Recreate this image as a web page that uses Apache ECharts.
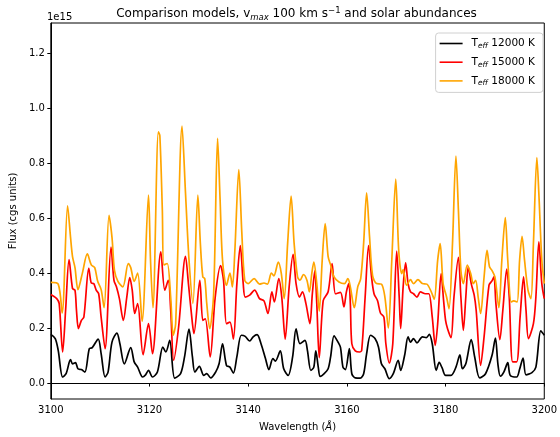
<!DOCTYPE html>
<html>
<head>
<meta charset="utf-8">
<script src="https://cdn.jsdelivr.net/npm/echarts@6/dist/echarts.min.js"></script>
<style>
  html, body { margin: 0; padding: 0; background: #fff; }
  #chart { width: 560px; height: 437px; }
</style>
</head>
<body>
<div id="chart"></div>
<script>
// Synthetic spectra, flux in units of 1e15 (cgs), wavelength in Angstrom.

// T_eff = 12000 K
const wave12 = [3100.0,3100.9,3101.5,3102.4,3103.1,3104.0,3104.4,3105.0,3105.5,3106.2,3106.9,3107.8,3108.4,3109.6,3110.2,3111.0,3111.6,3112.4,3113.4,3114.0,3114.9,3116.2,3116.9,3117.6,3118.6,3119.2,3119.8,3120.6,3121.6,3122.7,3123.3,3124.1,3125.1,3126.3,3127.1,3128.0,3128.7,3129.2,3130.1,3131.0,3131.6,3132.4,3133.4,3134.1,3134.8,3135.6,3136.3,3137.0,3137.7,3138.6,3139.4,3140.3,3141.0,3141.8,3142.6,3143.5,3144.2,3145.0,3145.5,3146.5,3147.2,3148.1,3149.0,3149.7,3150.5,3151.5,3152.0,3152.7,3153.3,3153.7,3154.2,3154.6,3155.4,3156.2,3156.7,3157.4,3158.2,3158.7,3159.2,3159.7,3160.5,3161.0,3161.7,3162.7,3163.4,3164.0,3164.8,3165.7,3166.4,3167.0,3167.7,3168.6,3169.4,3170.4,3170.9,3171.7,3172.4,3172.9,3173.5,3174.2,3175.3,3176.1,3176.7,3177.3,3178.1,3178.7,3179.3,3180.0,3181.1,3182.1,3182.9,3183.4,3184.1,3185.2,3185.9,3186.9,3188.1,3189.4,3190.1,3190.6,3191.1,3191.8,3192.6,3193.1,3194.4,3195.0,3195.7,3196.3,3197.5,3198.3,3199.3,3200.0];
const flux12 = [0.177,0.162,0.119,0.022,0.034,0.085,0.070,0.074,0.052,0.049,0.040,0.125,0.129,0.160,0.107,0.022,0.040,0.149,0.182,0.143,0.070,0.129,0.077,0.058,0.022,0.030,0.046,0.022,0.040,0.131,0.113,0.155,0.018,0.034,0.095,0.196,0.095,0.040,0.061,0.028,0.034,0.019,0.040,0.070,0.143,0.064,0.058,0.036,0.095,0.174,0.170,0.153,0.168,0.176,0.143,0.089,0.049,0.089,0.080,0.117,0.052,0.028,0.095,0.197,0.143,0.155,0.119,0.046,0.058,0.117,0.058,0.024,0.034,0.052,0.095,0.172,0.149,0.130,0.058,0.049,0.125,0.034,0.019,0.018,0.034,0.107,0.174,0.162,0.131,0.070,0.052,0.016,0.034,0.083,0.046,0.101,0.168,0.149,0.162,0.146,0.168,0.165,0.177,0.143,0.046,0.075,0.055,0.028,0.028,0.058,0.103,0.052,0.070,0.158,0.095,0.019,0.034,0.100,0.164,0.070,0.025,0.040,0.074,0.028,0.022,0.050,0.091,0.030,0.038,0.058,0.190,0.174];

// T_eff = 15000 K
const wave15 = [3100.0,3101.2,3101.7,3102.4,3103.0,3103.7,3104.4,3104.9,3105.2,3105.6,3106.2,3106.7,3107.7,3108.2,3108.7,3109.2,3109.7,3110.2,3111.0,3112.2,3112.8,3113.3,3113.9,3114.7,3115.4,3116.0,3116.5,3117.0,3117.6,3118.7,3119.8,3120.6,3122.3,3123.1,3123.8,3124.3,3124.9,3125.9,3127.3,3127.9,3128.7,3129.0,3130.2,3130.8,3131.3,3132.3,3133.3,3134.4,3135.0,3135.6,3136.3,3137.0,3137.7,3138.4,3139.0,3139.4,3140.3,3141.3,3142.3,3143.2,3144.0,3144.8,3145.3,3146.2,3146.8,3147.5,3148.3,3149.1,3149.7,3150.4,3151.0,3151.7,3152.5,3153.0,3153.5,3153.9,3154.4,3155.2,3156.2,3157.0,3157.7,3158.7,3159.4,3159.9,3160.4,3160.7,3161.0,3161.7,3162.6,3163.0,3163.7,3164.4,3165.0,3165.5,3166.2,3166.8,3167.5,3167.9,3168.6,3169.3,3170.1,3170.6,3170.9,3171.4,3171.9,3172.4,3172.9,3173.5,3174.2,3174.9,3175.9,3176.6,3177.3,3177.9,3178.4,3179.1,3179.6,3180.0,3180.4,3181.1,3181.7,3182.6,3183.1,3183.6,3184.1,3184.6,3185.2,3185.8,3186.2,3187.1,3187.8,3188.8,3189.4,3189.8,3190.2,3191.0,3191.6,3192.4,3192.9,3193.6,3194.4,3195.1,3195.8,3196.3,3196.8,3197.8,3198.3,3198.9,3199.5,3200.0];
const flux15 = [0.322,0.307,0.289,0.113,0.265,0.449,0.344,0.338,0.265,0.198,0.228,0.240,0.417,0.364,0.362,0.338,0.325,0.240,0.125,0.495,0.374,0.350,0.307,0.228,0.313,0.384,0.338,0.253,0.289,0.103,0.216,0.107,0.477,0.338,0.374,0.265,0.083,0.204,0.461,0.360,0.216,0.180,0.374,0.228,0.234,0.095,0.310,0.427,0.374,0.216,0.222,0.160,0.360,0.500,0.360,0.313,0.320,0.338,0.307,0.299,0.253,0.332,0.295,0.380,0.313,0.160,0.350,0.468,0.362,0.313,0.332,0.289,0.216,0.325,0.408,0.289,0.092,0.300,0.332,0.435,0.325,0.330,0.277,0.332,0.362,0.289,0.143,0.117,0.113,0.119,0.313,0.500,0.386,0.325,0.300,0.255,0.240,0.143,0.073,0.143,0.480,0.313,0.198,0.350,0.437,0.362,0.332,0.325,0.313,0.332,0.325,0.325,0.240,0.137,0.216,0.398,0.300,0.228,0.198,0.165,0.313,0.457,0.313,0.192,0.313,0.423,0.362,0.320,0.265,0.064,0.168,0.356,0.372,0.386,0.289,0.158,0.265,0.415,0.313,0.077,0.077,0.240,0.386,0.265,0.162,0.216,0.313,0.514,0.362,0.307];

// T_eff = 18000 K
const wave18 = [3100.0,3101.5,3102.3,3103.4,3104.0,3104.4,3104.9,3105.5,3106.4,3107.4,3108.2,3108.9,3109.5,3110.2,3110.8,3111.8,3112.4,3112.9,3113.6,3114.6,3115.7,3116.2,3116.9,3117.6,3118.5,3119.8,3120.2,3120.7,3121.8,3122.1,3122.6,3122.9,3123.6,3124.3,3124.8,3125.3,3126.6,3127.3,3128.0,3128.8,3129.8,3130.3,3130.8,3131.2,3131.6,3132.2,3133.0,3133.8,3134.3,3134.8,3135.6,3136.3,3136.8,3137.3,3138.1,3138.7,3139.3,3140.0,3141.2,3142.3,3143.2,3143.9,3144.7,3145.2,3146.1,3146.7,3147.3,3148.0,3148.7,3149.3,3150.0,3150.5,3151.2,3151.9,3152.4,3152.9,3153.3,3153.9,3154.4,3155.0,3155.6,3156.2,3156.7,3157.4,3158.4,3159.5,3160.2,3160.7,3161.5,3162.2,3162.8,3163.4,3164.0,3164.6,3165.2,3166.0,3167.0,3167.7,3168.4,3169.1,3169.9,3170.5,3171.1,3171.4,3172.1,3172.9,3173.5,3174.4,3175.3,3176.2,3177.1,3177.7,3178.4,3178.9,3179.5,3180.2,3180.7,3181.4,3182.1,3182.6,3183.1,3183.6,3184.4,3185.1,3185.6,3186.1,3186.6,3187.1,3187.8,3188.4,3188.9,3189.4,3190.0,3190.8,3191.4,3192.1,3192.6,3193.3,3193.8,3194.5,3195.0,3195.5,3196.0,3196.7,3197.3,3197.8,3198.5,3198.9,3199.5,3200.0];
const flux18 = [0.366,0.360,0.255,0.645,0.530,0.460,0.420,0.340,0.400,0.470,0.430,0.420,0.370,0.340,0.274,0.610,0.530,0.410,0.370,0.350,0.435,0.420,0.370,0.400,0.225,0.684,0.450,0.274,0.914,0.900,0.630,0.430,0.435,0.310,0.174,0.216,0.935,0.690,0.450,0.290,0.684,0.510,0.386,0.380,0.290,0.198,0.325,0.890,0.670,0.447,0.356,0.400,0.350,0.483,0.777,0.550,0.374,0.362,0.380,0.360,0.364,0.360,0.400,0.390,0.440,0.400,0.307,0.510,0.680,0.510,0.386,0.374,0.395,0.374,0.332,0.400,0.440,0.362,0.262,0.447,0.580,0.460,0.430,0.386,0.368,0.362,0.380,0.350,0.274,0.350,0.380,0.510,0.692,0.530,0.392,0.362,0.360,0.313,0.200,0.447,0.742,0.483,0.398,0.413,0.356,0.376,0.362,0.376,0.362,0.360,0.332,0.305,0.447,0.507,0.362,0.313,0.270,0.507,0.826,0.629,0.410,0.362,0.429,0.398,0.362,0.374,0.313,0.253,0.386,0.483,0.423,0.410,0.386,0.274,0.447,0.602,0.447,0.295,0.299,0.295,0.447,0.534,0.447,0.338,0.307,0.507,0.820,0.690,0.447,0.362];

const seriesNames = ['12000 K', '15000 K', '18000 K'];
const seriesColors = ['#000000', '#ff0000', '#ffa500'];
const xTicks = [3100, 3120, 3140, 3160, 3180, 3200];
const yTicks = [0.0, 0.2, 0.4, 0.6, 0.8, 1.0, 1.2];

const FONT = 'DejaVu Sans';
// Legend key: a short horizontal stroke (aspect kept, so it stays thin)
const LINE_ICON = 'path://M0,0 L46,0 L46,3.2 L0,3.2 Z';
const pairs = (w, f) => w.map((x, i) => [x, f[i]]);
const seriesData = [pairs(wave12, flux12), pairs(wave15, flux15), pairs(wave18, flux18)];

const chart = echarts.init(document.getElementById('chart'), null, { renderer: 'canvas' });

chart.setOption({
  animation: false,
  backgroundColor: '#fff',
  textStyle: { fontFamily: FONT },
  title: {
    text: '{a|Comparison models, v}{s|max}{a| 100 km s}{p|\u22121}{a| and solar abundances}',
    left: 296.5,
    top: 6,
    textAlign: 'center',
    padding: 0,
    textStyle: {
      fontWeight: 'normal',
      rich: {
        a: { fontFamily: FONT, fontSize: 12, fontWeight: 'normal', color: '#000', lineHeight: 16, verticalAlign: 'middle' },
        s: { fontFamily: FONT, fontSize: 8.5, fontWeight: 'normal', fontStyle: 'italic', color: '#000', lineHeight: 16, verticalAlign: 'bottom' },
        p: { fontFamily: FONT, fontSize: 8.5, fontWeight: 'normal', color: '#000', lineHeight: 16, verticalAlign: 'top' }
      }
    }
  },
  grid: {
    left: 47, right: 14, top: 23, bottom: 38,
    show: true, borderColor: '#000', borderWidth: 1, backgroundColor: 'transparent'
  },
  legend: {
    orient: 'vertical',
    right: 17,
    top: 33,
    padding: [5, 8, 5, 4],
    itemWidth: 23,
    itemHeight: 10,
    itemGap: 6.7,
    icon: LINE_ICON,
    backgroundColor: 'rgba(255,255,255,0.8)',
    borderColor: '#d0d0d0',
    borderWidth: 1,
    borderRadius: 3,
    data: seriesNames,
    formatter: name => '{t|T}{s|eff}{t| ' + name + '}',
    textStyle: {
      padding: [0, 0, 0, 4],
      rich: {
        t: { fontFamily: FONT, fontSize: 10.5, color: '#000', lineHeight: 13, verticalAlign: 'middle' },
        s: { fontFamily: FONT, fontSize: 7.5, fontStyle: 'italic', color: '#000', lineHeight: 13, verticalAlign: 'bottom' }
      }
    }
  },
  xAxis: {
    type: 'value',
    min: 3100, max: 3200, interval: 20,
    name: '{a|Wavelength (}{i|\u00c5}{a|)}',
    nameLocation: 'middle',
    nameGap: 23,
    nameTextStyle: {
      rich: {
        a: { fontFamily: FONT, fontSize: 10, color: '#000' },
        i: { fontFamily: FONT, fontSize: 10, color: '#000', fontStyle: 'italic' }
      }
    },
    axisLine: { show: true, lineStyle: { color: '#000', width: 1 } },
    axisTick: { show: true, inside: false, length: 3.5, lineStyle: { color: '#000', width: 1 }, customValues: xTicks },
    axisLabel: { show: true, margin: 6, color: '#000', fontFamily: FONT, fontSize: 10, customValues: xTicks, formatter: v => String(v) },
    splitLine: { show: false }
  },
  yAxis: {
    type: 'value',
    min: -0.058, max: 1.31,
    name: 'Flux (cgs units)',
    nameLocation: 'middle',
    nameGap: 30,
    nameRotate: 90,
    nameTextStyle: { fontFamily: FONT, fontSize: 10, color: '#000' },
    axisLine: { show: true, lineStyle: { color: '#000', width: 1 } },
    axisTick: { show: true, inside: false, length: 3.5, lineStyle: { color: '#000', width: 1 }, customValues: yTicks },
    axisLabel: { show: true, margin: 6, color: '#000', fontFamily: FONT, fontSize: 10, customValues: yTicks, formatter: v => v.toFixed(1) },
    splitLine: { show: false }
  },
  series: seriesNames.map((n, i) => ({
    name: n,
    type: 'line',
    data: seriesData[i],
    symbol: 'none',
    smooth: 0.3,
    z: 2 + i,
    clip: true,
    lineStyle: { color: seriesColors[i], width: 1.7 },
    itemStyle: { color: seriesColors[i] }
  })),
  graphic: [
    {
      type: 'text',
      left: 47,
      top: 12,
      style: { text: '1e15', fontFamily: FONT, fontSize: 10, fill: '#000' }
    }
  ]
});
</script>
</body>
</html>
